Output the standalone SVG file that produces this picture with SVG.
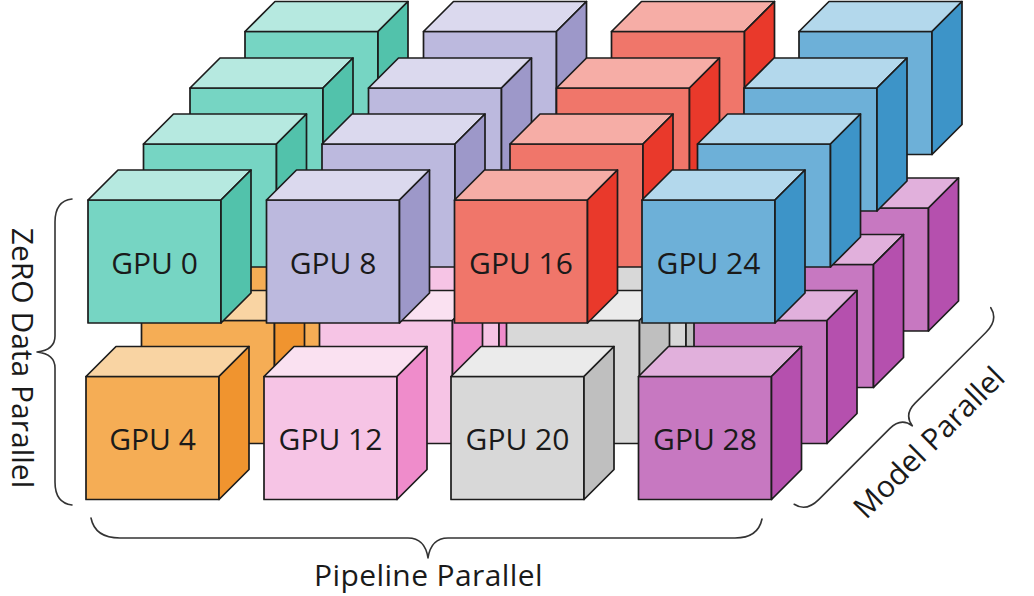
<svg xmlns="http://www.w3.org/2000/svg" width="1034" height="596" viewBox="0 0 1034 596">
<style>
.cube rect,.cube path{stroke:#1c1c1c;stroke-width:1.7;stroke-linejoin:round}
.teal .f{fill:#76d5c3}.teal .t{fill:#b6e9e0}.teal .s{fill:#52c2ab}
.lav .f{fill:#bcb9de}.lav .t{fill:#dbd9ee}.lav .s{fill:#9d98c9}
.red .f{fill:#f0766a}.red .t{fill:#f6ada6}.red .s{fill:#e9392b}
.blue .f{fill:#6db0d8}.blue .t{fill:#b3d8ec}.blue .s{fill:#3d94c8}
.orange .f{fill:#f5ad55}.orange .t{fill:#f9d4a3}.orange .s{fill:#f0942f}
.pink .f{fill:#f6c4e5}.pink .t{fill:#fae1f1}.pink .s{fill:#ef8ccb}
.gray .f{fill:#d8d8d8}.gray .t{fill:#ebebeb}.gray .s{fill:#bfbfbf}
.purple .f{fill:#c778c1}.purple .t{fill:#e1b0dc}.purple .s{fill:#b550ae}
.lbl{font-family:"Open Sans","Liberation Sans",sans-serif;font-size:30px;fill:#1a1a1a;text-anchor:middle}
.brace{fill:none;stroke:#333;stroke-width:1.6;stroke-linecap:round;stroke-linejoin:round}
</style>
<defs>
<g id="cubeShape">
<rect class="f" width="133" height="123"/>
<path class="t" d="M0 0L30 -30H163L133 0Z"/>
<path class="s" d="M133 0L163 -30V93L133 123Z"/>
</g>
</defs>
<rect width="1034" height="596" fill="#ffffff"/>
<g id="cubes">
<!-- layer 3 -->
<g id="gpu-3" class="cube teal" transform="translate(245,31.5)"><rect class="f" width="133" height="123"/><path class="t" d="M0 0L30 -30H163L133 0Z"/><path class="s" d="M133 0L163 -30V93L133 123Z"/></g>
<g id="gpu-11" class="cube lav" transform="translate(423.5,31.5)"><rect class="f" width="133" height="123"/><path class="t" d="M0 0L30 -30H163L133 0Z"/><path class="s" d="M133 0L163 -30V93L133 123Z"/></g>
<g id="gpu-19" class="cube red" transform="translate(611.5,31.5)"><rect class="f" width="133" height="123"/><path class="t" d="M0 0L30 -30H163L133 0Z"/><path class="s" d="M133 0L163 -30V93L133 123Z"/></g>
<g id="gpu-27" class="cube blue" transform="translate(799,31.5)"><rect class="f" width="133" height="123"/><path class="t" d="M0 0L30 -30H163L133 0Z"/><path class="s" d="M133 0L163 -30V93L133 123Z"/></g>
<g id="gpu-7" class="cube orange" transform="translate(243,208)"><rect class="f" width="133" height="123"/><path class="t" d="M0 0L30 -30H163L133 0Z"/><path class="s" d="M133 0L163 -30V93L133 123Z"/></g>
<g id="gpu-15" class="cube pink" transform="translate(421,208)"><rect class="f" width="133" height="123"/><path class="t" d="M0 0L30 -30H163L133 0Z"/><path class="s" d="M133 0L163 -30V93L133 123Z"/></g>
<g id="gpu-23" class="cube gray" transform="translate(608,208)"><rect class="f" width="133" height="123"/><path class="t" d="M0 0L30 -30H163L133 0Z"/><path class="s" d="M133 0L163 -30V93L133 123Z"/></g>
<g id="gpu-31" class="cube purple" transform="translate(795.5,208)"><rect class="f" width="133" height="123"/><path class="t" d="M0 0L30 -30H163L133 0Z"/><path class="s" d="M133 0L163 -30V93L133 123Z"/></g>
<!-- layer 2 -->
<g id="gpu-2" class="cube teal" transform="translate(190,88)"><rect class="f" width="133" height="123"/><path class="t" d="M0 0L30 -30H163L133 0Z"/><path class="s" d="M133 0L163 -30V93L133 123Z"/></g>
<g id="gpu-10" class="cube lav" transform="translate(368.5,88)"><rect class="f" width="133" height="123"/><path class="t" d="M0 0L30 -30H163L133 0Z"/><path class="s" d="M133 0L163 -30V93L133 123Z"/></g>
<g id="gpu-18" class="cube red" transform="translate(556.5,88)"><rect class="f" width="133" height="123"/><path class="t" d="M0 0L30 -30H163L133 0Z"/><path class="s" d="M133 0L163 -30V93L133 123Z"/></g>
<g id="gpu-26" class="cube blue" transform="translate(744,88)"><rect class="f" width="133" height="123"/><path class="t" d="M0 0L30 -30H163L133 0Z"/><path class="s" d="M133 0L163 -30V93L133 123Z"/></g>
<g id="gpu-6" class="cube orange" transform="translate(188,264.5)"><rect class="f" width="133" height="123"/><path class="t" d="M0 0L30 -30H163L133 0Z"/><path class="s" d="M133 0L163 -30V93L133 123Z"/></g>
<g id="gpu-14" class="cube pink" transform="translate(366,264.5)"><rect class="f" width="133" height="123"/><path class="t" d="M0 0L30 -30H163L133 0Z"/><path class="s" d="M133 0L163 -30V93L133 123Z"/></g>
<g id="gpu-22" class="cube gray" transform="translate(553,264.5)"><rect class="f" width="133" height="123"/><path class="t" d="M0 0L30 -30H163L133 0Z"/><path class="s" d="M133 0L163 -30V93L133 123Z"/></g>
<g id="gpu-30" class="cube purple" transform="translate(740.5,264.5)"><rect class="f" width="133" height="123"/><path class="t" d="M0 0L30 -30H163L133 0Z"/><path class="s" d="M133 0L163 -30V93L133 123Z"/></g>
<!-- layer 1 -->
<g id="gpu-1" class="cube teal" transform="translate(143.5,144)"><rect class="f" width="133" height="123"/><path class="t" d="M0 0L30 -30H163L133 0Z"/><path class="s" d="M133 0L163 -30V93L133 123Z"/></g>
<g id="gpu-9" class="cube lav" transform="translate(322,144)"><rect class="f" width="133" height="123"/><path class="t" d="M0 0L30 -30H163L133 0Z"/><path class="s" d="M133 0L163 -30V93L133 123Z"/></g>
<g id="gpu-17" class="cube red" transform="translate(510,144)"><rect class="f" width="133" height="123"/><path class="t" d="M0 0L30 -30H163L133 0Z"/><path class="s" d="M133 0L163 -30V93L133 123Z"/></g>
<g id="gpu-25" class="cube blue" transform="translate(697.5,144)"><rect class="f" width="133" height="123"/><path class="t" d="M0 0L30 -30H163L133 0Z"/><path class="s" d="M133 0L163 -30V93L133 123Z"/></g>
<g id="gpu-5" class="cube orange" transform="translate(141.5,320.5)"><rect class="f" width="133" height="123"/><path class="t" d="M0 0L30 -30H163L133 0Z"/><path class="s" d="M133 0L163 -30V93L133 123Z"/></g>
<g id="gpu-13" class="cube pink" transform="translate(319.5,320.5)"><rect class="f" width="133" height="123"/><path class="t" d="M0 0L30 -30H163L133 0Z"/><path class="s" d="M133 0L163 -30V93L133 123Z"/></g>
<g id="gpu-21" class="cube gray" transform="translate(506.5,320.5)"><rect class="f" width="133" height="123"/><path class="t" d="M0 0L30 -30H163L133 0Z"/><path class="s" d="M133 0L163 -30V93L133 123Z"/></g>
<g id="gpu-29" class="cube purple" transform="translate(694,320.5)"><rect class="f" width="133" height="123"/><path class="t" d="M0 0L30 -30H163L133 0Z"/><path class="s" d="M133 0L163 -30V93L133 123Z"/></g>
<!-- layer 0 -->
<g id="gpu-0" class="cube teal" transform="translate(88,200)"><rect class="f" width="133" height="123"/><path class="t" d="M0 0L30 -30H163L133 0Z"/><path class="s" d="M133 0L163 -30V93L133 123Z"/><text class="lbl" x="66.5" y="74">GPU 0</text></g>
<g id="gpu-8" class="cube lav" transform="translate(266.5,200)"><rect class="f" width="133" height="123"/><path class="t" d="M0 0L30 -30H163L133 0Z"/><path class="s" d="M133 0L163 -30V93L133 123Z"/><text class="lbl" x="66.5" y="74">GPU 8</text></g>
<g id="gpu-16" class="cube red" transform="translate(454.5,200)"><rect class="f" width="133" height="123"/><path class="t" d="M0 0L30 -30H163L133 0Z"/><path class="s" d="M133 0L163 -30V93L133 123Z"/><text class="lbl" x="66.5" y="74">GPU 16</text></g>
<g id="gpu-24" class="cube blue" transform="translate(642,200)"><rect class="f" width="133" height="123"/><path class="t" d="M0 0L30 -30H163L133 0Z"/><path class="s" d="M133 0L163 -30V93L133 123Z"/><text class="lbl" x="66.5" y="74">GPU 24</text></g>
<g id="gpu-4" class="cube orange" transform="translate(86,376.5)"><rect class="f" width="133" height="123"/><path class="t" d="M0 0L30 -30H163L133 0Z"/><path class="s" d="M133 0L163 -30V93L133 123Z"/><text class="lbl" x="66.5" y="73">GPU 4</text></g>
<g id="gpu-12" class="cube pink" transform="translate(264,376.5)"><rect class="f" width="133" height="123"/><path class="t" d="M0 0L30 -30H163L133 0Z"/><path class="s" d="M133 0L163 -30V93L133 123Z"/><text class="lbl" x="66.5" y="73">GPU 12</text></g>
<g id="gpu-20" class="cube gray" transform="translate(451,376.5)"><rect class="f" width="133" height="123"/><path class="t" d="M0 0L30 -30H163L133 0Z"/><path class="s" d="M133 0L163 -30V93L133 123Z"/><text class="lbl" x="66.5" y="73">GPU 20</text></g>
<g id="gpu-28" class="cube purple" transform="translate(638.5,376.5)"><rect class="f" width="133" height="123"/><path class="t" d="M0 0L30 -30H163L133 0Z"/><path class="s" d="M133 0L163 -30V93L133 123Z"/><text class="lbl" x="66.5" y="73">GPU 28</text></g>
</g>
<g id="connectors">
<path id="brace-zero" class="brace" d="M72 199Q55 201 55 222L55 336Q55 350 37 352Q55 354 55 368L55 482Q55 503 72 505"/>
<path id="brace-pipeline" class="brace" d="M91 518Q95 538 120 538L408 538Q425 538 428 558Q431 538 448 538L735 538Q758 538 762 519"/>
<path id="brace-model" class="brace" transform="translate(892.5,406) rotate(-45)" d="M-139 0Q-136 14 -118 14L-18 14Q-2 14 0 28Q2 14 18 14L118 14Q136 14 139 0"/>
</g>
<g id="labels">
<text class="lbl" transform="translate(12,358) rotate(90)">ZeRO Data Parallel</text>
<text class="lbl" x="428.5" y="586" letter-spacing="0.4">Pipeline Parallel</text>
<text class="lbl" transform="translate(892.5,406) rotate(-45)" x="0" y="62">Model Parallel</text>
</g>
</svg>
